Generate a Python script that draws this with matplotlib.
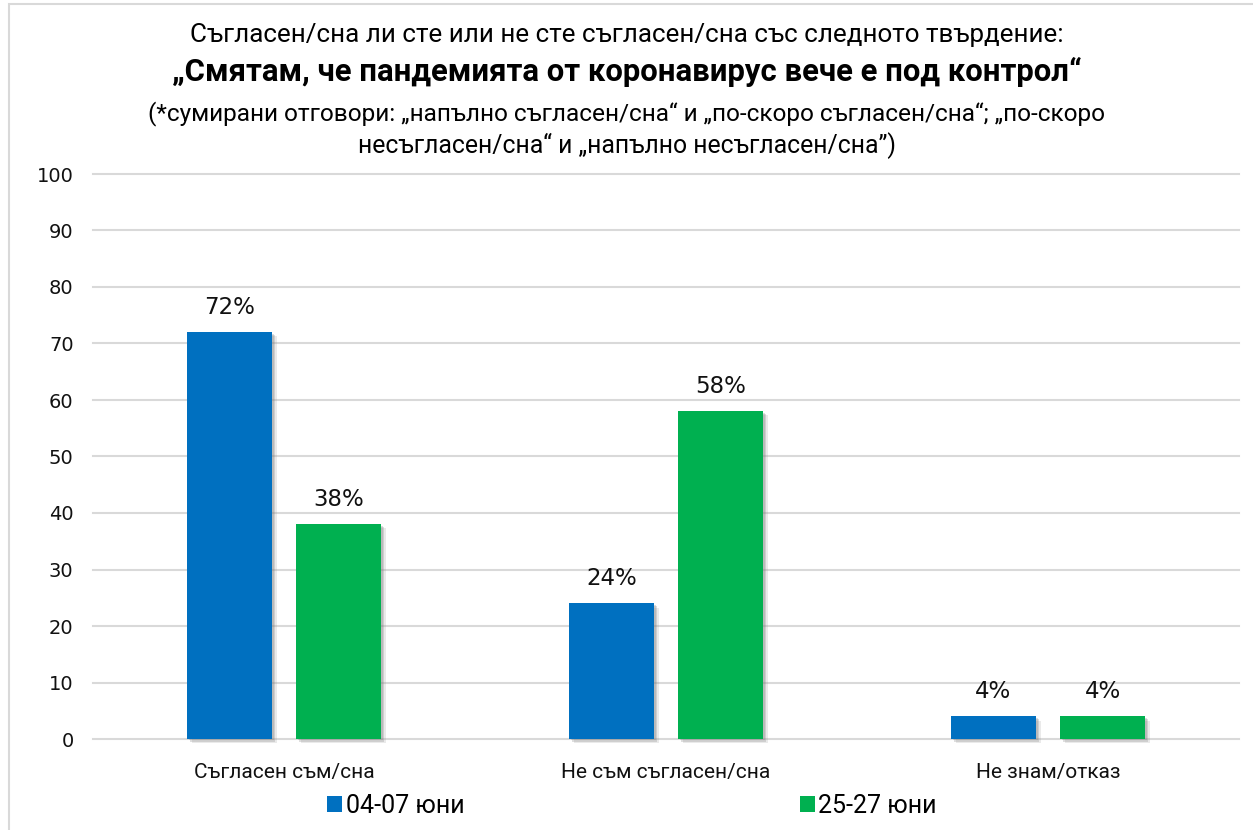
import matplotlib

matplotlib.use("Agg")
import matplotlib.pyplot as plt
import matplotlib.patheffects as pe
from matplotlib.patches import Rectangle
import numpy as np

# данни
categories = ["Съгласен съм/сна", "Не съм съгласен/сна", "Не знам/отказ"]
series_names = ["04-07 юни", "25-27 юни"]
vals_june04 = [72, 24, 4]
vals_june25 = [38, 58, 4]
yticks = [0, 10, 20, 30, 40, 50, 60, 70, 80, 90, 100]

BLUE = "#0070C0"
GREEN = "#00B050"
GRID = "#D9D9D9"
TXT = "Roboto"
NUM = "DejaVu Sans"

W, H = 1253, 830
fig = plt.figure(figsize=(W / 100, H / 100), dpi=100)
fig.patch.set_facecolor("white")

# рамка на диаграмата
fig.patches.append(Rectangle((9 / W, -0.05), 1.2, 1 - 4 / H + 0.05, transform=fig.transFigure,
                             fill=False, edgecolor=GRID, linewidth=1.5))

ax = fig.add_axes([93 / W, (H - 739) / H, (1239 - 93) / W, (739 - 174) / H])
x = np.arange(len(categories))
bw = 0.2225
off = 0.1427

# мека сянка вдясно и отдолу
shadow = [pe.SimplePatchShadow(offset=(3.5, -3), shadow_rgbFace="#8c8c8c", alpha=0.18),
          pe.SimplePatchShadow(offset=(2.5, -2), shadow_rgbFace="#7f7f7f", alpha=0.25),
          pe.SimplePatchShadow(offset=(1.5, -1), shadow_rgbFace="#7f7f7f", alpha=0.25),
          pe.Normal()]
b1 = ax.bar(x - off, vals_june04, bw, color=BLUE, label=series_names[0], zorder=3)
b2 = ax.bar(x + off, vals_june25, bw, color=GREEN, label=series_names[1], zorder=3)
for bars in (b1, b2):
    for r in bars:
        r.set_path_effects(shadow)
        r.set_clip_on(False)
    for r, v in zip(bars, bars.datavalues):
        ax.annotate(f"{v:.0f}%", (r.get_x() + r.get_width() / 2, v), xytext=(0, 13),
                    textcoords="offset points", ha="center", va="baseline",
                    fontsize=16.5, family=NUM, color="#111111")

ax.set_xlim(-0.5, 2.5)
ax.set_ylim(0, 100)
ax.set_yticks(yticks)
ax.set_xticks(x)
ax.set_xticklabels(categories, family=TXT, fontsize=15)
ax.set_yticklabels([str(t) for t in yticks], family=NUM, fontsize=14)
ax.tick_params(axis="both", length=0, colors="#111111")
ax.tick_params(axis="x", pad=17)
ax.tick_params(axis="y", pad=14)
for s in ax.spines.values():
    s.set_visible(False)
ax.grid(axis="y", color=GRID, linewidth=1.5, zorder=0)
ax.set_axisbelow(True)
for gl in ax.get_ygridlines():
    gl.set_clip_on(False)

# заглавие
fig.text(0.5, 1 - 35 / H, "Съгласен/сна ли сте или не сте съгласен/сна със следното твърдение:",
         ha="center", va="center", family=TXT, fontsize=18.7)
fig.text(0.5, 1 - 72 / H, "„Смятам, че пандемията от коронавирус вече е под контрол“",
         ha="center", va="center", family=TXT, fontsize=22.4, fontweight="bold")
fig.text(0.5, 1 - 114 / H,
         "(*сумирани отговори: „напълно съгласен/сна“ и „по-скоро съгласен/сна“; „по-скоро",
         ha="center", va="center", family=TXT, fontsize=17.6)
fig.text(0.5, 1 - 146 / H, "несъгласен/сна“ и „напълно несъгласен/сна”)",
         ha="center", va="center", family=TXT, fontsize=17.8)

leg = fig.legend(handles=[b1, b2], labels=series_names, loc="center",
                 bbox_to_anchor=(632 / W, 1 - 806 / H), ncol=2, frameon=False,
                 prop={"family": TXT, "size": 18}, handlelength=0.6, handleheight=0.6,
                 handletextpad=0.15, columnspacing=13.4, borderpad=0)
for h in leg.legend_handles:
    h.set_path_effects([])

fig.savefig("out.png", dpi=100, facecolor="white")
